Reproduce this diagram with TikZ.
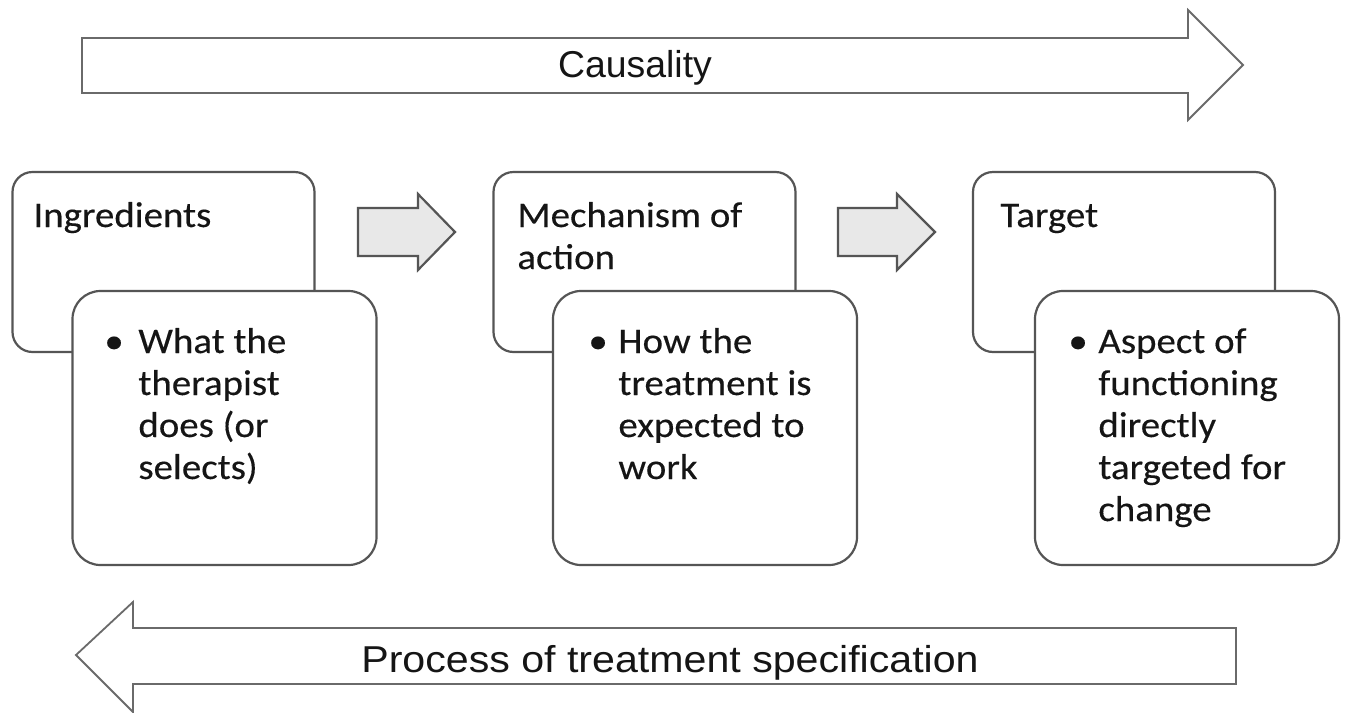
\documentclass[tikz,border=0pt]{standalone}
\usepackage{fontspec}
\setmainfont{Carlito}[FakeStretch=1.08,FakeBold=0.3]
\newfontfamily\arialfont{Liberation Sans}
\newfontfamily\arialwide{Liberation Sans}[FakeStretch=1.1]
\definecolor{edge}{HTML}{555555}
\definecolor{arrowedge}{HTML}{6A6A6A}
\definecolor{smallfill}{HTML}{E8E8E8}
\definecolor{ink}{HTML}{151515}
\begin{document}
\begin{tikzpicture}[x=0.5pt,y=-0.5pt,
  backbox/.style={draw=edge, line width=1.1pt, fill=white, rounded corners=10pt,
    minimum width=151pt, minimum height=90pt, inner sep=0pt},
  frontbox/.style={draw=edge, line width=1.1pt, fill=white, rounded corners=14pt,
    minimum width=152pt, minimum height=137pt, inner sep=0pt},
  bigarrow/.style={draw=arrowedge, line width=0.9pt, fill=white, line join=miter},
  smallarrow/.style={draw=edge, line width=1.1pt, fill=smallfill, line join=miter},
  title/.style={anchor=base west, inner sep=0pt, text=ink, font=\fontsize{18}{21}\selectfont},
  bullets/.style={anchor=base west, inner sep=0pt, text=ink, font=\fontsize{18}{21}\selectfont},
  bigtext/.style={anchor=base, inner sep=0pt, text=ink, font=\arialfont\fontsize{18.7}{22}\selectfont}
]
\useasboundingbox (0,0) rectangle (1346,713);
\fill[white] (0,0) rectangle (1346,713);

% Causality arrow
\draw[bigarrow] (82,38) -- (1188,38) -- (1188,10) -- (1243,65) -- (1188,120) -- (1188,93) -- (82,93) -- cycle;
\node[bigtext] (causality) at (635,77) {Causality};

% Process arrow
\draw[bigarrow] (1236,628) -- (133,628) -- (133,602) -- (76,655) -- (133,712) -- (133,684) -- (1236,684) -- cycle;
\node[bigtext, font=\arialwide\fontsize{18.7}{22}\selectfont] (process) at (670,672) {Process of treatment specification};

% Boxes
\node[backbox] (ingB) at (163.5,262) {};
\node[frontbox] (ingF) at (224.5,428) {};
\node[backbox] (mecB) at (644.5,262) {};
\node[frontbox] (mecF) at (705,428) {};
\node[backbox] (tarB) at (1124,262) {};
\node[frontbox] (tarF) at (1187,428) {};

% Small arrows
\draw[smallarrow] (358,208) -- (418,208) -- (418,194) -- (455,232) -- (418,270) -- (418,256) -- (358,256) -- cycle;
\draw[smallarrow] (838,208) -- (897,208) -- (897,194) -- (935,232) -- (897,270) -- (897,256) -- (838,256) -- cycle;

% Titles
\node[title] (ingT) at (33,227) {Ingredients};
\node[title] (mecT) at (517,227) {\parbox[t]{140pt}{Mechanism of\\action}};
\node[title] (tarT) at (1000,227) {Target};

% Bullet texts
\node[bullets] (ingL) at (104,353) {\parbox[t]{130pt}{\hangindent=17pt\hangafter=1\makebox[17pt][l]{\textbullet}What the\\therapist\\does (or\\selects)}};
\node[bullets] (mecL) at (588,353) {\parbox[t]{130pt}{\hangindent=15pt\hangafter=1\makebox[15pt][l]{\textbullet}How the\\treatment is\\expected to\\work}};
\node[bullets] (tarL) at (1068,353) {\parbox[t]{130pt}{\hangindent=15pt\hangafter=1\makebox[15pt][l]{\textbullet}Aspect of\\functioning\\directly\\targeted for\\change}};
\end{tikzpicture}
\end{document}
